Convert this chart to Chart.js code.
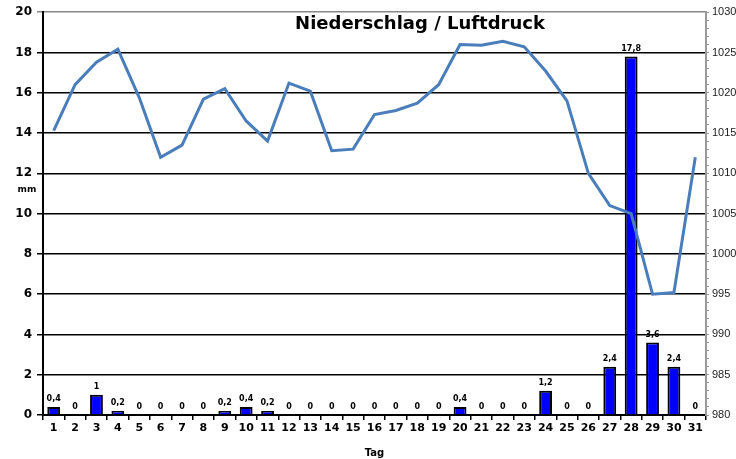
<!DOCTYPE html>
<html>
<head>
    <title>Niederschlag / Luftdruck</title>
    <script src="https://cdn.jsdelivr.net/npm/chart.js"></script>
    <style>
        body {
            margin: 0;
            padding: 0;
            background-color: #ffffff;
        }
        .chart-container {
            width: 736px;
            height: 459px;
        }
    </style>
</head>
<body>
    <div class="chart-container">
        <canvas id="dataChart"></canvas>
    </div>

    <script>
        const days = ['1', '2', '3', '4', '5', '6', '7', '8', '9', '10', '11', '12', '13', '14', '15', '16',
            '17', '18', '19', '20', '21', '22', '23', '24', '25', '26', '27', '28', '29', '30', '31'];
        const rain = [0.4, 0, 1, 0.2, 0, 0, 0, 0, 0.2, 0.4, 0.2, 0, 0, 0, 0, 0,
            0, 0, 0, 0.4, 0, 0, 0, 1.2, 0, 0, 2.4, 17.8, 3.6, 2.4, 0];
        const pressure = [1015.3, 1021, 1023.8, 1025.4, 1019.4, 1012, 1013.5, 1019.2, 1020.5, 1016.5, 1014,
            1021.2, 1020.2, 1012.8, 1013, 1017.3, 1017.8, 1018.7, 1021, 1026, 1025.9,
            1026.4, 1025.7, 1022.7, 1019, 1010, 1006, 1005, 995, 995.2, 1012];
        const chartTitle = 'Niederschlag / Luftdruck';

        const ctx = document.getElementById('dataChart').getContext('2d');

        // title, "mm" label and value labels on top of the bars
        const extraText = {
            id: 'extraText',
            afterDatasetsDraw(chart) {
                const c = chart.ctx;
                c.save();
                c.fillStyle = '#000';
                c.textAlign = 'center';

                c.font = 'bold 18px "DejaVu Sans"';
                c.textBaseline = 'middle';
                c.fillText(chartTitle, 420, 24);

                c.font = 'bold 9px "DejaVu Sans"';
                c.fillText('mm', 27, chart.scales.y.getPixelForValue(11.2));

                c.font = 'bold 8px "DejaVu Sans"';
                c.textBaseline = 'bottom';
                const meta = chart.getDatasetMeta(1);
                meta.data.forEach((bar, i) => {
                    const txt = String(rain[i]).replace('.', ',');
                    c.fillText(txt, bar.x, bar.y - 4);
                });
                c.restore();
            }
        };

        new Chart(ctx, {
            data: {
                labels: days,
                datasets: [
                    {
                        type: 'line',
                        label: 'Luftdruck',
                        data: pressure,
                        yAxisID: 'y1',
                        borderColor: '#4a7ebb',
                        borderWidth: 3,
                        pointRadius: 0,
                        tension: 0,
                        order: 1
                    },
                    {
                        type: 'bar',
                        label: 'Niederschlag',
                        data: rain,
                        yAxisID: 'y',
                        backgroundColor: '#0000ff',
                        borderColor: '#000',
                        borderWidth: 2,
                        categoryPercentage: 1,
                        barPercentage: 0.6,
                        order: 2
                    }
                ]
            },
            options: {
                responsive: true,
                maintainAspectRatio: false,
                animation: false,
                layout: {
                    padding: { top: 11, left: 0, right: 0, bottom: 0 }
                },
                plugins: {
                    legend: { display: false },
                    tooltip: { enabled: false }
                },
                scales: {
                    x: {
                        offset: true,
                        grid: {
                            offset: true,
                            drawOnChartArea: false,
                            color: '#000',
                            lineWidth: 1.5,
                            tickLength: 5
                        },
                        border: { color: '#000', width: 2 },
                        ticks: {
                            color: '#000',
                            font: { family: 'DejaVu Sans', size: 11, weight: 'bold' },
                            padding: 2,
                            maxRotation: 0,
                            autoSkip: false
                        },
                        title: {
                            display: true,
                            text: 'Tag',
                            color: '#000',
                            font: { family: 'DejaVu Sans', size: 10, weight: 'bold' },
                            padding: { top: 3, bottom: 0 }
                        },
                        afterFit(scale) {
                            scale.height = 44;
                        }
                    },
                    y: {
                        position: 'left',
                        min: 0,
                        max: 20,
                        ticks: {
                            stepSize: 2,
                            color: '#000',
                            font: { family: 'DejaVu Sans', size: 12, weight: 'bold' },
                            padding: 5
                        },
                        grid: {
                            color: c => c.tick && c.tick.value === 20 ? '#888' : '#000',
                            lineWidth: 1.5,
                            tickLength: 6
                        },
                        border: { color: '#000', width: 2 },
                        afterFit(scale) {
                            scale.width = 43;
                        }
                    },
                    y1: {
                        position: 'right',
                        min: 980,
                        max: 1030,
                        ticks: {
                            stepSize: 1,
                            autoSkip: false,
                            color: '#222',
                            font: { family: 'Liberation Sans', size: 11 },
                            padding: 3,
                            callback: v => v % 5 === 0 ? v : ''
                        },
                        grid: {
                            drawOnChartArea: false,
                            color: '#999',
                            tickLength: 3
                        },
                        border: { color: '#999', width: 2 },
                        afterFit(scale) {
                            scale.width = 30;
                        }
                    }
                }
            },
            plugins: [extraText]
        });
    </script>
</body>
</html>
